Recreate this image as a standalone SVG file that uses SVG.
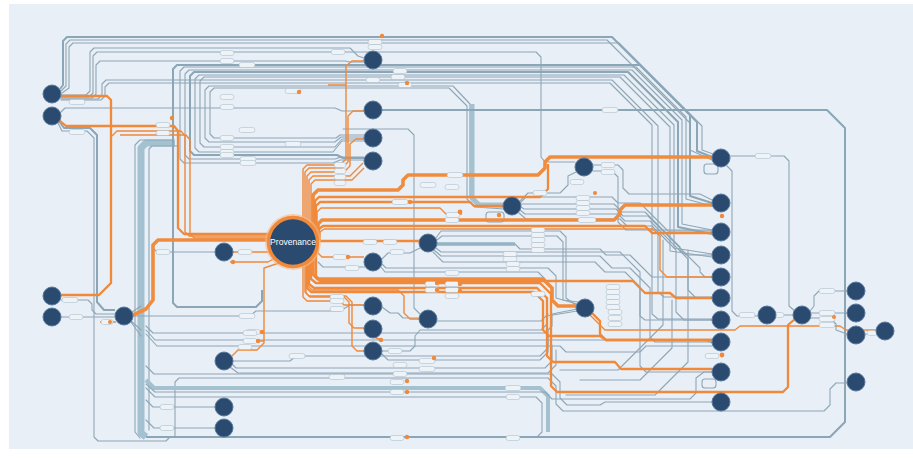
<svg xmlns="http://www.w3.org/2000/svg" width="913" height="459" viewBox="0 0 913 459">
<style>
.g{fill:none;stroke:#8ea6b6;stroke-width:1.1;stroke-linejoin:round;stroke-linecap:round}
.g2{fill:none;stroke:#8aa6b7;stroke-width:2;stroke-linejoin:round}
.gt{fill:none;stroke:#a3c1cf;stroke-width:5;stroke-linejoin:round}
.o{fill:none;stroke:#f0893a;stroke-width:1.4;stroke-linejoin:round}
.o2{fill:none;stroke:#f0893a;stroke-width:2.3;stroke-linejoin:round}
.o3{fill:none;stroke:#f08c3e;stroke-width:3.6;stroke-linejoin:round}
.n{fill:#2b4a70;stroke:#56779b;stroke-width:1}
.p{fill:#eef3f7;stroke:#a3b7c5;stroke-width:.5}
.d{fill:#f0893a}
</style>
<rect width="913" height="459" fill="#ffffff"/>
<rect x="9" y="4" width="904" height="445" fill="#e8eff6"/>
<g id="edges">
<path class="g2" d="M60 89L63 85V41L67 37H612L697 122V151L712 157"/>
<path class="g" d="M61 91L66 86V44L70 40H607L690 123V150L712 160"/>
<path class="g" d="M62 93L69 88V47L73 43H619L702 126V150L713 154"/>
<path class="g" d="M61 95H86L90 91V52L94 48H350L358 56L364 58"/>
<path class="g" d="M61 97H89L93 93V56L97 52H536L541 57V157L545 162H575"/>
<path class="g" d="M61 98H92L96 94V65L100 61H345L350 62H364"/>
<path class="g" d="M61 99H98L102 95V84L106 80H612L658 126V292L664 297H712"/>
<path class="g" d="M61 100H101L105 96V87L109 83H610L652 125V314L658 319H712"/>
<path class="g" d="M61 112L65 108H335L342 111H364"/>
<path class="g2" d="M59 121L64 128H90L97 135V302L104 310H115"/>
<path class="g" d="M58 123L62 131H87L94 138V437L98 441H166L170 437"/>
<path class="gt" style="stroke-width:7" d="M175 143H146L141 148V433L146 437"/>
<path class="g" d="M173 140H140L135 145V432L140 438"/>
<path class="g" d="M178 146H152L149 149V430"/>
<path class="g2" d="M712 203L690 196V115L640 65H177L173 69V303L177 307H256L262 301V290"/>
<path class="g" d="M712 206L686 199V117L636 67H184L180 71V159L184 163H333L340 160H364"/>
<path class="g" d="M712 230L682 224V120L632 70H189L185 74V155L189 159H335L341 157H364"/>
<path class="g2" d="M712 234L678 227V122L628 72H194L190 76V151L194 155H337L343 158H364"/>
<path class="g" d="M712 254L674 248V125L624 75H199L195 79V148L199 152H333L342 141H364"/>
<path class="g" d="M712 257L670 251V127L620 77H204L200 81V143L204 147H335L342 139H364"/>
<path class="g" d="M504 207L478 205L470 197V104L453 86H209L205 90V138L209 142H335L341 137H364"/>
<path class="g" d="M504 209L475 207L467 199V106L449 88H214L210 92V134L214 138H336L340 135H364"/>
<path class="gt" d="M472 104V198L479 205H504"/>
<path class="g2" d="M382 110H827L845 128V422L830 437H146"/>
<path class="g" d="M343 129H408L414 135V308L420 314"/>
<path class="g" d="M730 156H784L789 161V306L796 312"/>
<path class="g" d="M727 166L732 171V311L737 316H758"/>
<path class="g" d="M776 315H793"/>
<path class="g" d="M810 311L814 306V296L819 291H847"/>
<path class="g" d="M811 313H847"/>
<path class="g" d="M810 318H830L836 324V330L847 334"/>
<path class="g" d="M864 334H876"/>
<path class="g" d="M593 165H618L623 170V188L629 194H700L712 200"/>
<path class="g" d="M593 171H612L618 177V222L626 230H712"/>
<path class="g" d="M520 201L528 193H560L568 185V176L576 172"/>
<path class="g" d="M521 202L526 197H612L618 203H640L668 231H712"/>
<path class="g" d="M521 204H614L622 212H645L680 247V250L686 255H712"/>
<path class="g" d="M521 207L524 209H616L623 216H648L700 268V272L705 277H712"/>
<path class="g" d="M520 210L525 214H618L625 221H650L688 259V290L696 298H712"/>
<path class="g" d="M519 213L526 219H620L627 226H652L676 250V312L684 320H712"/>
<path class="g" d="M436 238L441 231H560L566 237V298L577 306"/>
<path class="g" d="M437 240L442 236H557L563 242V300L578 302"/>
<path class="gt" style="stroke-width:4" d="M437 244H515"/>
<path class="g" d="M437 244H515L520 249H600L606 255H630L652 277H712"/>
<path class="g" d="M436 248L441 252H620L640 272V316L645 320H712"/>
<path class="g" d="M434 250L441 256H600L612 268H630L650 288V337L655 342H712"/>
<path class="g" d="M433 252L443 262H595L605 272H625L640 287V366L646 372H712"/>
<path class="g" d="M382 259L388 253H410L420 248"/>
<path class="g" d="M382 264L386 268H548L556 276V298L577 304"/>
<path class="g" d="M381 267L385 272H538L545 279"/>
<path class="g" d="M318 262L323 267H365"/>
<path class="g" d="M382 351H410L415 346V336L420 330H541L547 324V316L577 311"/>
<path class="g" d="M382 354L388 360H540L548 352V330"/>
<path class="g" d="M382 307L390 313H398L403 318H419"/>
<path class="g" d="M437 321H541L548 314"/>
<path class="g" d="M146 326L153 333H545L552 326V314L577 309"/>
<path class="g" d="M146 330L155 340H705L712 343"/>
<path class="g" d="M146 334L157 346H560L566 352H640L646 346H712"/>
<path class="g" d="M233 361H290L296 356H540L548 348V336"/>
<path class="g" d="M232 364L236 368H545L552 361V345"/>
<path class="g" d="M230 367L238 373H548L556 365V350"/>
<path class="g" d="M146 366L154 374H552L560 382V398L567 405H600L605 402H712"/>
<path class="g" d="M175 436V382L179 378H548L556 386V404L563 411H824L830 405V389L836 383H847"/>
<path class="gt" style="stroke-width:4" d="M146 380L154 388H540L548 396V432"/>
<path class="g" d="M146 384L155 392H545L552 399H690L696 393V378L704 372H712"/>
<path class="g" d="M146 388L155 397H536L542 403V432L537 437"/>
<path class="g" d="M146 400L153 407H215"/>
<path class="g" d="M146 420L154 428H215"/>
<path class="g" d="M560 370H618L663 325V240"/>
<path class="g" d="M566 395H655L688 362V250"/>
<path class="g" d="M580 380H640L672 348V300"/>
<path class="g" d="M133 316H250L256 311H340L350 305H364"/>
<path class="g" d="M61 300H88L92 304V310L96 314H115"/>
<path class="g" d="M61 317H115"/>
<path class="g" d="M215 252H158L152 248"/>
<path class="g" d="M130 320L141 330M131 322L141 336M132 312L141 306"/>
<rect class="g" x="704" y="164" width="14" height="10" rx="3"/>
<rect class="g" x="702" y="379" width="14" height="9" rx="3"/>
<rect class="g" x="486" y="212" width="18" height="10" rx="3"/>
<path class="o" d="M303 240V169L307 165H340L346 159V66L352 61H364"/>
<path class="o" d="M305 240V172L309 168H342L348 162V116L353 111H364"/>
<path class="o" d="M307 240V176L311 172H344L350 166V144L356 139H364"/>
<path class="o" d="M309 240V180L313 176H350L363 163"/>
<path class="o" d="M311 240V184L315 180H352L364 168"/>
<path class="o3" d="M313 240V195L318 190H398L403 185V180L408 175H538L545 168V162L550 157H712"/>
<path class="o2" d="M315 240V201L319 197H540L548 189V164"/>
<path class="o2" d="M316 240V206L320 202H470L474 206H504"/>
<path class="o" d="M317 240V212L321 208H440L446 214H462"/>
<path class="o3" d="M318 240V224L322 220H614L620 214V210L625 205H712"/>
<path class="o2" d="M319 240V229L323 226H645L652 233H712"/>
<path class="o" d="M320 240V232L324 229H653L660 236V270L667 277H712"/>
<path class="o2" d="M320 241H420"/>
<path class="o" d="M318 244V253L322 257H364"/>
<path class="o3" d="M313 244V274L318 279H543L552 288V300L558 306H576"/>
<path class="o2" d="M316 244V276L320 281H633L645 293H670L676 298H712"/>
<path class="o2" d="M311 244V279L316 283H540L551 294V386L557 392H783L788 387V325L795 319"/>
<path class="o2" d="M309 244V284L314 288H537L547 298V356L553 362H615L621 369H712"/>
<path class="o2" d="M307 244V288L311 292H534L543 301V330L549 336H600L606 340H712"/>
<path class="o2" d="M592 313L600 321V334L606 340H712"/>
<path class="o" d="M305 244V292L309 296H346L352 302V346L357 351H364"/>
<path class="o" d="M303 244V297L307 301H340L344 305H364"/>
<path class="o" d="M306 244V293L310 297H344L349 302V323L354 328H364"/>
<path class="o" d="M308 244V286L312 290H398L404 296V313L410 319H419"/>
<path class="o" d="M590 315L598 323L605 330H735L740 326H840L846 330H876"/>
<path class="o2" d="M280 234H184L178 228V131L174 126H66L59 120"/>
<path class="o" d="M280 236H189L185 232V136L181 131H117L112 136"/>
<path class="o" d="M280 238H194L190 234V140L186 135H120"/>
<path class="o2" d="M61 96H107L111 100V283L99 295H61"/>
<path class="o3" d="M282 240H158L153 245V300L146 309L133 315"/>
<path class="o" d="M282 247L270 252H233"/>
<path class="o" d="M275 258L268 262H230"/>
<path class="o" d="M282 262L264 268V343L257 350H238L232 356"/>
<path class="o" d="M264 332H247M264 341H244M328 85H346M374 337L381 340M116 322H100"/>
</g>
<g id="labels">
<rect class="p" x="220" y="50.5" width="14" height="5" rx="2.5"/>
<rect class="p" x="220" y="58.5" width="14" height="5" rx="2.5"/>
<rect class="p" x="239" y="62.5" width="16" height="5" rx="2.5"/>
<rect class="p" x="220" y="94.5" width="14" height="5" rx="2.5"/>
<rect class="p" x="220" y="104.5" width="14" height="5" rx="2.5"/>
<rect class="p" x="239" y="127.5" width="16" height="5" rx="2.5"/>
<rect class="p" x="220" y="135.5" width="14" height="5" rx="2.5"/>
<rect class="p" x="285" y="141.5" width="16" height="5" rx="2.5"/>
<rect class="p" x="220" y="144.5" width="14" height="5" rx="2.5"/>
<rect class="p" x="220" y="149.5" width="14" height="5" rx="2.5"/>
<rect class="p" x="220" y="152.5" width="14" height="5" rx="2.5"/>
<rect class="p" x="240" y="156.5" width="16" height="5" rx="2.5"/>
<rect class="p" x="240" y="160.5" width="16" height="5" rx="2.5"/>
<rect class="p" x="285" y="88.5" width="16" height="5" rx="2.5"/>
<rect class="p" x="156" y="122.5" width="14" height="5" rx="2.5"/>
<rect class="p" x="156" y="130.5" width="14" height="5" rx="2.5"/>
<rect class="p" x="69" y="99.5" width="16" height="5" rx="2.5"/>
<rect class="p" x="69" y="129.5" width="16" height="5" rx="2.5"/>
<rect class="p" x="368" y="39.5" width="14" height="5" rx="2.5"/>
<rect class="p" x="368" y="44.5" width="14" height="5" rx="2.5"/>
<rect class="p" x="331" y="49.5" width="14" height="5" rx="2.5"/>
<rect class="p" x="393" y="68.5" width="14" height="5" rx="2.5"/>
<rect class="p" x="391" y="74.5" width="14" height="5" rx="2.5"/>
<rect class="p" x="366" y="77.5" width="14" height="5" rx="2.5"/>
<rect class="p" x="398" y="82.5" width="14" height="5" rx="2.5"/>
<rect class="p" x="602" y="107.5" width="16" height="5" rx="2.5"/>
<rect class="p" x="334" y="162.5" width="12" height="5" rx="2.5"/>
<rect class="p" x="334" y="168.5" width="12" height="5" rx="2.5"/>
<rect class="p" x="334" y="174.5" width="12" height="5" rx="2.5"/>
<rect class="p" x="334" y="180.5" width="12" height="5" rx="2.5"/>
<rect class="p" x="447" y="172.5" width="16" height="5" rx="2.5"/>
<rect class="p" x="420" y="182.5" width="16" height="5" rx="2.5"/>
<rect class="p" x="445" y="184.5" width="14" height="5" rx="2.5"/>
<rect class="p" x="392" y="199.5" width="16" height="5" rx="2.5"/>
<rect class="p" x="446" y="212.5" width="14" height="5" rx="2.5"/>
<rect class="p" x="445" y="217.5" width="14" height="5" rx="2.5"/>
<rect class="p" x="533" y="190.5" width="14" height="5" rx="2.5"/>
<rect class="p" x="755" y="153.5" width="16" height="5" rx="2.5"/>
<rect class="p" x="601" y="162.5" width="14" height="5" rx="2.5"/>
<rect class="p" x="601" y="169.5" width="14" height="5" rx="2.5"/>
<rect class="p" x="570" y="179.5" width="14" height="5" rx="2.5"/>
<rect class="p" x="576" y="195.5" width="14" height="5" rx="2.5"/>
<rect class="p" x="576" y="200.5" width="14" height="5" rx="2.5"/>
<rect class="p" x="576" y="205.5" width="14" height="5" rx="2.5"/>
<rect class="p" x="576" y="210.5" width="14" height="5" rx="2.5"/>
<rect class="p" x="578" y="217.5" width="18" height="5" rx="2.5"/>
<rect class="p" x="531" y="227.5" width="14" height="5" rx="2.5"/>
<rect class="p" x="531" y="232.5" width="14" height="5" rx="2.5"/>
<rect class="p" x="531" y="237.5" width="14" height="5" rx="2.5"/>
<rect class="p" x="531" y="242.5" width="14" height="5" rx="2.5"/>
<rect class="p" x="531" y="247.5" width="14" height="5" rx="2.5"/>
<rect class="p" x="503" y="251.5" width="14" height="5" rx="2.5"/>
<rect class="p" x="503" y="256.5" width="14" height="5" rx="2.5"/>
<rect class="p" x="506" y="261.5" width="14" height="5" rx="2.5"/>
<rect class="p" x="506" y="266.5" width="14" height="5" rx="2.5"/>
<rect class="p" x="606" y="284.5" width="14" height="5" rx="2.5"/>
<rect class="p" x="606" y="289.5" width="14" height="5" rx="2.5"/>
<rect class="p" x="606" y="294.5" width="14" height="5" rx="2.5"/>
<rect class="p" x="606" y="299.5" width="14" height="5" rx="2.5"/>
<rect class="p" x="606" y="304.5" width="14" height="5" rx="2.5"/>
<rect class="p" x="608" y="309.5" width="14" height="5" rx="2.5"/>
<rect class="p" x="608" y="315.5" width="14" height="5" rx="2.5"/>
<rect class="p" x="608" y="321.5" width="14" height="5" rx="2.5"/>
<rect class="p" x="705" y="353.5" width="14" height="5" rx="2.5"/>
<rect class="p" x="739" y="312.5" width="16" height="5" rx="2.5"/>
<rect class="p" x="770" y="312.5" width="14" height="5" rx="2.5"/>
<rect class="p" x="819" y="288.5" width="16" height="5" rx="2.5"/>
<rect class="p" x="819" y="310.5" width="16" height="5" rx="2.5"/>
<rect class="p" x="819" y="316.5" width="16" height="5" rx="2.5"/>
<rect class="p" x="819" y="322.5" width="16" height="5" rx="2.5"/>
<rect class="p" x="867" y="330.5" width="10" height="5" rx="2.5"/>
<rect class="p" x="363" y="239.5" width="14" height="5" rx="2.5"/>
<rect class="p" x="383" y="239.5" width="14" height="5" rx="2.5"/>
<rect class="p" x="333" y="254.5" width="14" height="5" rx="2.5"/>
<rect class="p" x="345" y="265.5" width="14" height="5" rx="2.5"/>
<rect class="p" x="390" y="249.5" width="14" height="5" rx="2.5"/>
<rect class="p" x="445" y="270.5" width="14" height="5" rx="2.5"/>
<rect class="p" x="330" y="294.5" width="14" height="5" rx="2.5"/>
<rect class="p" x="330" y="298.5" width="14" height="5" rx="2.5"/>
<rect class="p" x="330" y="306.5" width="14" height="5" rx="2.5"/>
<rect class="p" x="425" y="281.5" width="14" height="5" rx="2.5"/>
<rect class="p" x="445" y="281.5" width="14" height="5" rx="2.5"/>
<rect class="p" x="425" y="287.5" width="14" height="5" rx="2.5"/>
<rect class="p" x="445" y="287.5" width="14" height="5" rx="2.5"/>
<rect class="p" x="445" y="293.5" width="14" height="5" rx="2.5"/>
<rect class="p" x="531" y="291.5" width="14" height="5" rx="2.5"/>
<rect class="p" x="388" y="348.5" width="14" height="5" rx="2.5"/>
<rect class="p" x="393" y="362.5" width="14" height="5" rx="2.5"/>
<rect class="p" x="419" y="358.5" width="16" height="5" rx="2.5"/>
<rect class="p" x="419" y="366.5" width="16" height="5" rx="2.5"/>
<rect class="p" x="393" y="371.5" width="14" height="5" rx="2.5"/>
<rect class="p" x="329" y="374.5" width="16" height="5" rx="2.5"/>
<rect class="p" x="390" y="379.5" width="14" height="5" rx="2.5"/>
<rect class="p" x="390" y="389.5" width="14" height="5" rx="2.5"/>
<rect class="p" x="505" y="385.5" width="16" height="5" rx="2.5"/>
<rect class="p" x="506" y="394.5" width="14" height="5" rx="2.5"/>
<rect class="p" x="390" y="435.5" width="14" height="5" rx="2.5"/>
<rect class="p" x="506" y="435.5" width="14" height="5" rx="2.5"/>
<rect class="p" x="156" y="249.5" width="14" height="5" rx="2.5"/>
<rect class="p" x="238" y="249.5" width="14" height="5" rx="2.5"/>
<rect class="p" x="62" y="297.5" width="16" height="5" rx="2.5"/>
<rect class="p" x="69" y="314.5" width="14" height="5" rx="2.5"/>
<rect class="p" x="101" y="319.5" width="12" height="5" rx="2.5"/>
<rect class="p" x="239" y="313.5" width="16" height="5" rx="2.5"/>
<rect class="p" x="246" y="329.5" width="14" height="5" rx="2.5"/>
<rect class="p" x="243" y="338.5" width="14" height="5" rx="2.5"/>
<rect class="p" x="238" y="344.5" width="14" height="5" rx="2.5"/>
<rect class="p" x="289" y="353.5" width="16" height="5" rx="2.5"/>
<rect class="p" x="160" y="404.5" width="14" height="5" rx="2.5"/>
<rect class="p" x="160" y="425.5" width="14" height="5" rx="2.5"/>
<rect class="p" x="243" y="330.5" width="14" height="5" rx="2.5"/>
</g>
<g id="markers">
<circle class="d" cx="382" cy="36" r="2.2"/>
<circle class="d" cx="299" cy="92" r="2.2"/>
<circle class="d" cx="172" cy="118" r="2.2"/>
<circle class="d" cx="407" cy="83" r="2.2"/>
<circle class="d" cx="410" cy="202" r="2.2"/>
<circle class="d" cx="460" cy="212" r="2.4"/>
<circle class="d" cx="595" cy="193" r="2"/>
<circle class="d" cx="499" cy="215" r="2.2"/>
<circle class="d" cx="722" cy="216" r="2.2"/>
<circle class="d" cx="722" cy="355" r="2.4"/>
<circle class="d" cx="348" cy="257" r="2.2"/>
<circle class="d" cx="233" cy="262" r="2.2"/>
<circle class="d" cx="262" cy="332" r="2.2"/>
<circle class="d" cx="258" cy="341" r="2.2"/>
<circle class="d" cx="381" cy="340" r="2.2"/>
<circle class="d" cx="434" cy="358" r="2.2"/>
<circle class="d" cx="407" cy="381" r="2.2"/>
<circle class="d" cx="407" cy="392" r="2.2"/>
<circle class="d" cx="407" cy="437" r="2.2"/>
<circle class="d" cx="437" cy="283" r="2.2"/>
<circle class="d" cx="437" cy="290" r="2.2"/>
<circle class="d" cx="460" cy="284" r="2.2"/>
<circle class="d" cx="460" cy="291" r="2.2"/>
<circle class="d" cx="834" cy="317" r="2"/>
<circle class="d" cx="110" cy="322" r="2"/>
</g>
<g id="nodes">
<g id="n-a"><circle class="n" cx="52" cy="94" r="9"/></g>
<g id="n-b"><circle class="n" cx="52" cy="116" r="9"/></g>
<g id="n-c"><circle class="n" cx="52" cy="296" r="9"/></g>
<g id="n-d"><circle class="n" cx="52" cy="317" r="9"/></g>
<g id="n-hub"><circle class="n" cx="124" cy="316" r="9"/></g>
<g id="n-e"><circle class="n" cx="224" cy="252" r="9"/></g>
<g id="n-f"><circle class="n" cx="224" cy="361" r="9"/></g>
<g id="n-g"><circle class="n" cx="224" cy="407" r="9"/></g>
<g id="n-h"><circle class="n" cx="224" cy="428" r="9"/></g>
<g id="n-i"><circle class="n" cx="373" cy="60" r="9"/></g>
<g id="n-j"><circle class="n" cx="373" cy="110" r="9"/></g>
<g id="n-k"><circle class="n" cx="373" cy="138" r="9"/></g>
<g id="n-l"><circle class="n" cx="373" cy="161" r="9"/></g>
<g id="n-m"><circle class="n" cx="373" cy="262" r="9"/></g>
<g id="n-n"><circle class="n" cx="373" cy="306" r="9"/></g>
<g id="n-o"><circle class="n" cx="373" cy="329" r="9"/></g>
<g id="n-p"><circle class="n" cx="373" cy="351" r="9"/></g>
<g id="n-q"><circle class="n" cx="428" cy="243" r="9"/></g>
<g id="n-r"><circle class="n" cx="428" cy="319" r="9"/></g>
<g id="n-s"><circle class="n" cx="512" cy="206" r="9"/></g>
<g id="n-t"><circle class="n" cx="584" cy="167" r="9"/></g>
<g id="n-u"><circle class="n" cx="585" cy="308" r="9"/></g>
<g id="n-r0"><circle class="n" cx="721" cy="158" r="9"/></g>
<g id="n-r1"><circle class="n" cx="721" cy="203" r="9"/></g>
<g id="n-r2"><circle class="n" cx="721" cy="232" r="9"/></g>
<g id="n-r3"><circle class="n" cx="721" cy="255" r="9"/></g>
<g id="n-r4"><circle class="n" cx="721" cy="277" r="9"/></g>
<g id="n-r5"><circle class="n" cx="721" cy="298" r="9"/></g>
<g id="n-r6"><circle class="n" cx="721" cy="320" r="9"/></g>
<g id="n-r7"><circle class="n" cx="721" cy="342" r="9"/></g>
<g id="n-r8"><circle class="n" cx="721" cy="372" r="9"/></g>
<g id="n-r9"><circle class="n" cx="721" cy="402" r="9"/></g>
<g id="n-v"><circle class="n" cx="767" cy="315" r="9"/></g>
<g id="n-w"><circle class="n" cx="802" cy="315" r="9"/></g>
<g id="n-x"><circle class="n" cx="856" cy="291" r="9"/></g>
<g id="n-y"><circle class="n" cx="856" cy="313" r="9"/></g>
<g id="n-z"><circle class="n" cx="856" cy="335" r="9"/></g>
<g id="n-aa"><circle class="n" cx="885" cy="331" r="9"/></g>
<g id="n-bb"><circle class="n" cx="856" cy="382" r="9"/></g>
<g id="provenance">
<circle cx="293" cy="242" r="28" fill="#f6b987" opacity="0.6"/>
<circle cx="293" cy="242" r="24.5" fill="#2b4a70" stroke="#f0893a" stroke-width="3.5"/>
<text x="293" y="245" font-family="Liberation Sans, Arial, sans-serif" font-size="8.6" fill="#ffffff" text-anchor="middle">Provenance</text>
</g>
</g>
</svg>
